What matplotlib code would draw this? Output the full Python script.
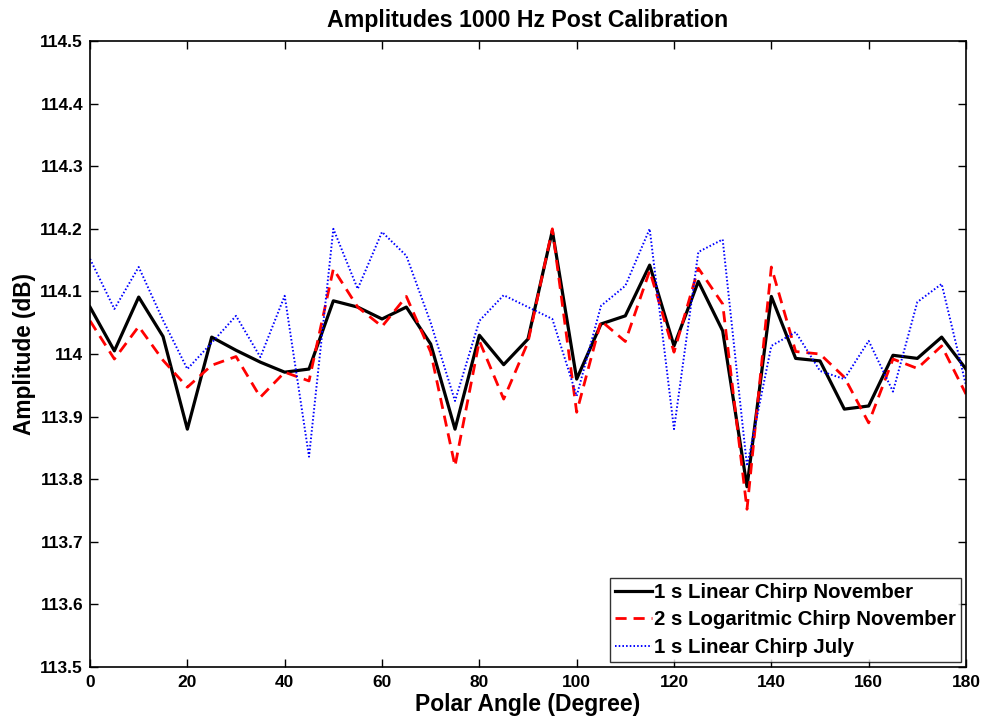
import matplotlib
matplotlib.use("Agg")
import matplotlib.pyplot as plt
from matplotlib.ticker import FuncFormatter

angles = list(range(0, 181, 5))

linear_nov = [114.075, 114.005, 114.091, 114.028, 113.880, 114.027, 114.006, 113.987, 113.971, 113.976,
              114.085, 114.075, 114.056, 114.075, 114.016, 113.880, 114.030, 113.983, 114.024, 114.197,
              113.960, 114.048, 114.061, 114.142, 114.013, 114.116, 114.037, 113.788, 114.092, 113.993,
              113.989, 113.912, 113.917, 113.998, 113.993, 114.027, 113.976]

log_nov = [114.053, 113.992, 114.044, 113.990, 113.947, 113.982, 113.996, 113.931, 113.971, 113.957,
           114.136, 114.075, 114.044, 114.092, 114.003, 113.821, 114.021, 113.928, 114.019, 114.200,
           113.907, 114.053, 114.020, 114.133, 114.003, 114.137, 114.080, 113.752, 114.139, 114.004,
           114.000, 113.963, 113.890, 113.992, 113.977, 114.013, 113.936]

linear_jul = [114.152, 114.072, 114.139, 114.054, 113.976, 114.018, 114.061, 113.995, 114.093, 113.836,
              114.200, 114.104, 114.195, 114.157, 114.050, 113.925, 114.053, 114.094, 114.075, 114.056,
              113.933, 114.077, 114.109, 114.200, 113.880, 114.163, 114.183, 113.821, 114.013, 114.035,
              113.973, 113.960, 114.021, 113.940, 114.083, 114.112, 113.950]

labels = ["1 s Linear Chirp November", "2 s Logaritmic Chirp November", "1 s Linear Chirp July"]

plt.rcParams['font.family'] = ['Liberation Sans', 'DejaVu Sans']
plt.rcParams['font.weight'] = 'bold'

fig = plt.figure(figsize=(9.85, 7.16), dpi=100)
ax = fig.add_axes([0.0914, 0.0684, 0.8893, 0.8743])

ax.plot(angles, linear_nov, color='black', lw=2.3, ls='-', label=labels[0])
ax.plot(angles, log_nov, color='red', lw=2.0, ls=(0, (4, 2.5)), label=labels[1])
ax.plot(angles, linear_jul, color='blue', lw=1.4, ls=(0, (0.8, 1.1)), label=labels[2])

ax.set_xlim(0, 180)
ax.set_ylim(113.5, 114.5)
ax.set_xticks(range(0, 181, 20))
ax.set_yticks([113.5 + 0.1 * i for i in range(11)])
ax.yaxis.set_major_formatter(FuncFormatter(lambda v, p: ('%.1f' % v).rstrip('0').rstrip('.')))
ax.tick_params(direction='in', top=True, right=True, length=6, width=1, labelsize=12.5)
ax.tick_params(axis='x', pad=6)
ax.tick_params(axis='y', pad=5)
for lab in ax.get_xticklabels() + ax.get_yticklabels():
    lab.set_fontweight('bold')
for s in ax.spines.values():
    s.set_linewidth(1.2)

ax.set_title("Amplitudes 1000 Hz Post Calibration", fontsize=16.7, fontweight='bold', pad=10)
ax.set_xlabel("Polar Angle (Degree)", fontsize=16.5, fontweight='bold', labelpad=2)
ax.set_ylabel("Amplitude (dB)", fontsize=16.3, fontweight='bold', labelpad=3)

leg = ax.legend(loc='lower right', frameon=True, fancybox=False,
                edgecolor='black', borderpad=0.25, labelspacing=0.42, handlelength=1.8,
                handletextpad=0.1, borderaxespad=0.25, prop={'weight': 'bold', 'size': 14.7})
leg.get_frame().set_linewidth(1.0)

fig.savefig("out.png", dpi=100)
